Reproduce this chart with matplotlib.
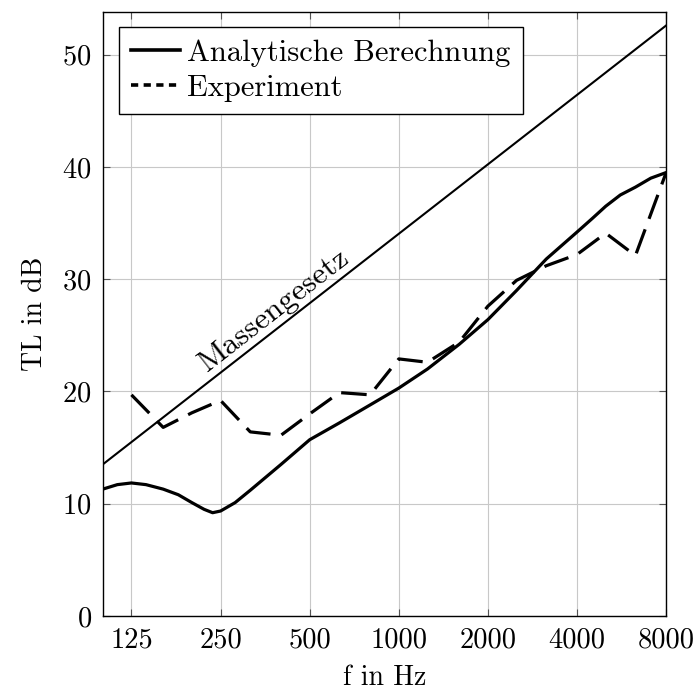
import numpy as np
import matplotlib
matplotlib.use("Agg")
import matplotlib.pyplot as plt
from matplotlib.lines import Line2D

# Analytische Berechnung
f_ana = [100, 112, 125, 140, 160, 180, 200, 220, 235, 250, 280, 315, 400, 500, 630,
         800, 1000, 1250, 1600, 2000, 2500, 3150, 4000, 4500, 5000, 5600, 6300, 7100, 8000]
tl_ana = [11.3, 11.7, 11.85, 11.7, 11.3, 10.8, 10.1, 9.5, 9.2, 9.35, 10.1, 11.2, 13.5, 15.7, 17.2,
          18.8, 20.3, 22.0, 24.2, 26.4, 29.0, 31.8, 34.2, 35.4, 36.5, 37.5, 38.2, 39.0, 39.5]

# Experiment (Terzbänder)
f_exp = [125, 160, 200, 250, 315, 400, 500, 630, 800, 1000, 1250, 1600,
         2000, 2500, 3150, 4000, 5000, 6300, 8000]
tl_exp = [19.7, 16.8, 18.1, 19.2, 16.4, 16.1, 18.0, 19.9, 19.7, 22.9, 22.6, 24.4,
          27.6, 29.9, 31.2, 32.2, 34.1, 32.1, 39.5]

# Massengesetz
f_mass = [100, 8000]
tl_mass = [13.5, 52.6]

xticks = [125, 250, 500, 1000, 2000, 4000, 8000]
yticks = [0, 10, 20, 30, 40, 50]

plt.rcParams["font.family"] = "cmr10"
plt.rcParams["axes.formatter.use_mathtext"] = True
plt.rcParams["font.size"] = 20.5

fig = plt.figure(figsize=(6.99, 6.94), dpi=100)
ax = fig.add_axes([0.147, 0.1124, 0.806, 0.8703])

ax.plot(f_mass, tl_mass, color="black", lw=1.5)
ax.plot(f_ana, tl_ana, color="black", lw=2.3, solid_joinstyle="round")
ax.plot(f_exp, tl_exp, color="black", lw=2.3, dashes=(8, 3.5))

ax.text(405, 26.3, "Massengesetz", rotation=37.9, rotation_mode="anchor",
        ha="center", va="bottom", fontsize=22.5)

ax.set_xscale("log")
ax.set_xlim(100, 8000)
ax.set_ylim(0, 53.8)
ax.set_xticks(xticks)
ax.set_xticklabels([str(t) for t in xticks])
ax.xaxis.set_minor_locator(matplotlib.ticker.NullLocator())
ax.set_yticks(yticks)

ax.grid(True, color="#c8c8c8", lw=0.8)
ax.set_axisbelow(True)
ax.tick_params(direction="in", top=True, right=True, length=5, width=0.8,
               color="#555555", labelcolor="black", pad=8)
for s in ax.spines.values():
    s.set_linewidth(1.0)

ax.set_xlabel("f in Hz", fontsize=20, labelpad=8)
ax.set_ylabel("TL in dB", fontsize=20, labelpad=10)

handles = [Line2D([], [], color="black", lw=2.6),
           Line2D([], [], color="black", lw=2.6, dashes=(2.0, 1.5))]
leg = ax.legend(handles, ["Analytische Berechnung", "Experiment"], loc="upper left",
                bbox_to_anchor=(0.028, 0.975), fancybox=False, framealpha=1,
                edgecolor="black", handlelength=1.6, handletextpad=0.25,
                borderpad=0.4, labelspacing=0.25, borderaxespad=0, fontsize=22)
leg.get_frame().set_linewidth(1.0)

plt.savefig("out.png", dpi=100)
